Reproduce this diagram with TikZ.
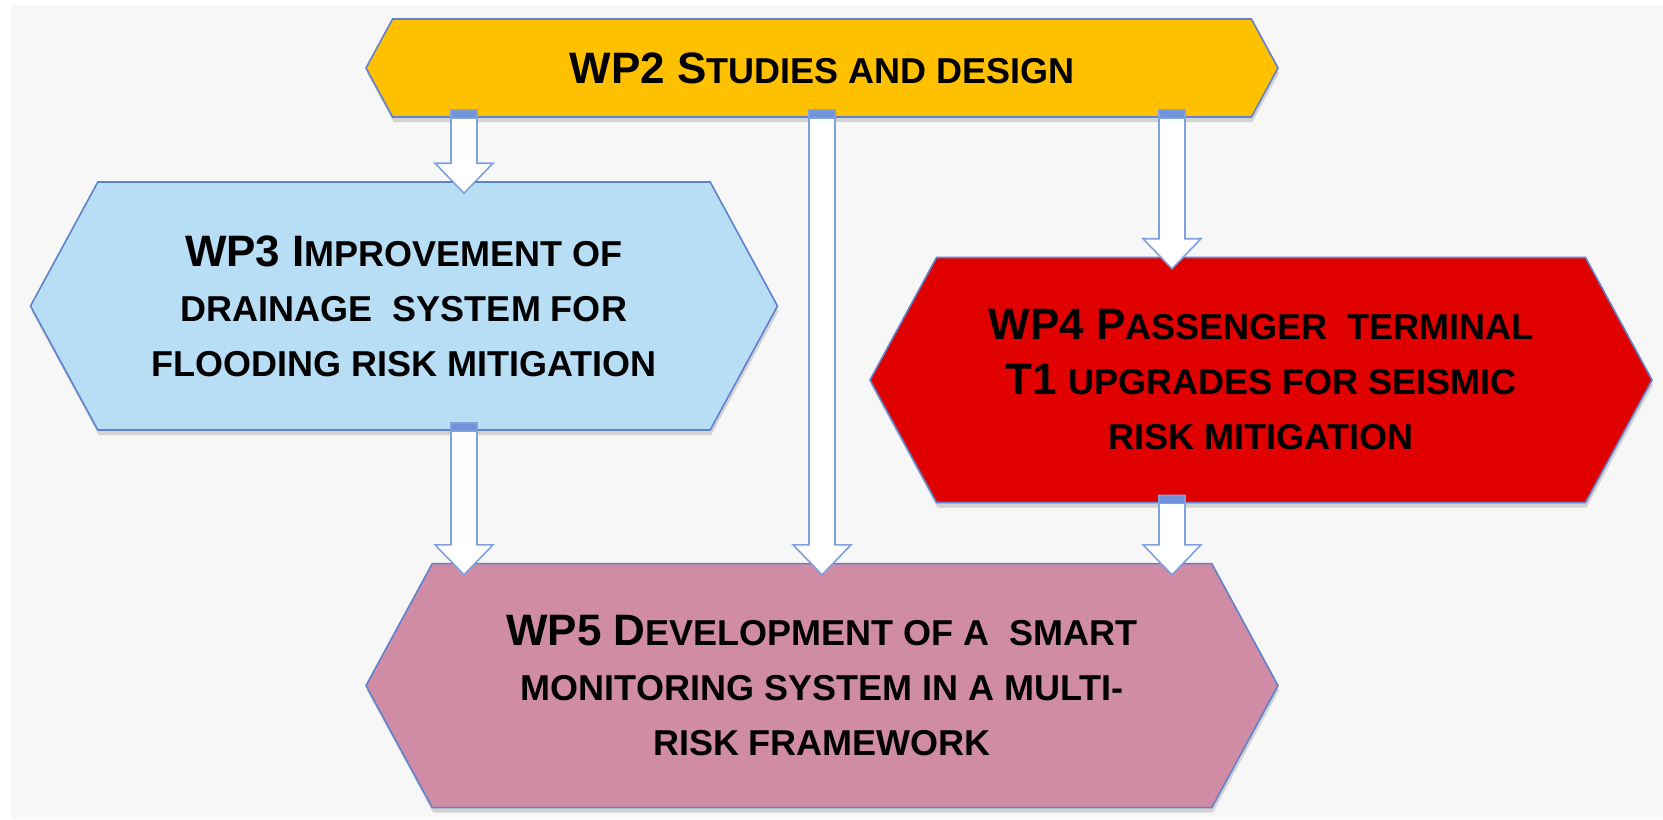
\documentclass[tikz,border=0pt]{standalone}
\usepackage{fontspec}
\setmainfont{Liberation Sans}
\usetikzlibrary{shapes.symbols,positioning,calc,shadows}

\definecolor{wpyellow}{RGB}{255,192,0}
\definecolor{wpblue}{RGB}{184,222,246}
\definecolor{wpred}{RGB}{224,0,0}
\definecolor{wppink}{RGB}{208,140,164}
\definecolor{wpedge}{RGB}{96,130,204}
\definecolor{arrowedge}{RGB}{128,160,224}
\definecolor{arrowcap}{RGB}{112,146,216}
\definecolor{bggray}{RGB}{247,247,247}

\newcommand\lowcaps[1]{{\fontsize{18}{27.5}\selectfont\MakeUppercase{#1}}}
\newcommand\wparrow[2]{%
  \draw[arrowline, fill=white] let \p1=(#1), \p2=(#2) in
    (\x1-6.5pt,\y1+4pt) -- (\x1-6.5pt,\y2+9pt) -- (\x1-14.5pt,\y2+9pt)
    -- (\x1,\y2-6pt) -- (\x1+14.5pt,\y2+9pt) -- (\x1+6.5pt,\y2+9pt)
    -- (\x1+6.5pt,\y1+4pt) -- cycle;
  \draw[arrowline, fill=arrowcap] let \p1=(#1) in
    (\x1-6.5pt,\y1+4pt) rectangle (\x1+6.5pt,\y1);}

\begin{document}
\begin{tikzpicture}[x=0.5pt, y=-0.5pt,
  wp/.style={signal, signal to=east and west, signal pointer angle=123,
    draw=wpedge, line width=0.8pt, align=center, font=\bfseries\fontsize{22}{27.5}\selectfont,
    drop shadow={opacity=0.3, shadow xshift=0.5pt, shadow yshift=-2.5pt}},
  arrowline/.style={draw=arrowedge, line width=0.8pt, line join=miter}]
  \useasboundingbox (0,0) rectangle (1663,819);
  \fill[bggray] (11,5) rectangle (1663,819);

  \node[wp, fill=wpyellow, minimum width=456pt, minimum height=49pt] (wp2) at (822,68)
    {WP2 S\lowcaps{tudies and design}};
  \node[wp, fill=wpblue, minimum width=373.5pt, minimum height=124pt] (wp3) at (404,306)
    {WP3 I\lowcaps{mprovement of}\\ \lowcaps{drainage\ \ system for}\\ \lowcaps{flooding risk mitigation}};
  \node[wp, fill=wpred, minimum width=391pt, minimum height=122.5pt] (wp4) at (1261,380)
    {WP4 P\lowcaps{assenger\ \ terminal}\\ T1 \lowcaps{upgrades for seismic}\\ \lowcaps{risk mitigation}};
  \node[wp, fill=wppink, minimum width=456pt, minimum height=122pt, below=222.5pt of wp2] (wp5)
    {WP5 D\lowcaps{evelopment of a\ \ smart}\\ \lowcaps{monitoring system in a multi-}\\ \lowcaps{risk framework}};

  \coordinate (drain) at (464,0);
  \coordinate (seis) at (1172,0);
  \wparrow{wp2.south -| drain}{wp3.north -| drain}
  \wparrow{wp2.south}{wp5.north}
  \wparrow{wp2.south -| seis}{wp4.north -| seis}
  \wparrow{wp3.south -| drain}{wp5.north -| drain}
  \wparrow{wp4.south -| seis}{wp5.north -| seis}
\end{tikzpicture}
\end{document}
